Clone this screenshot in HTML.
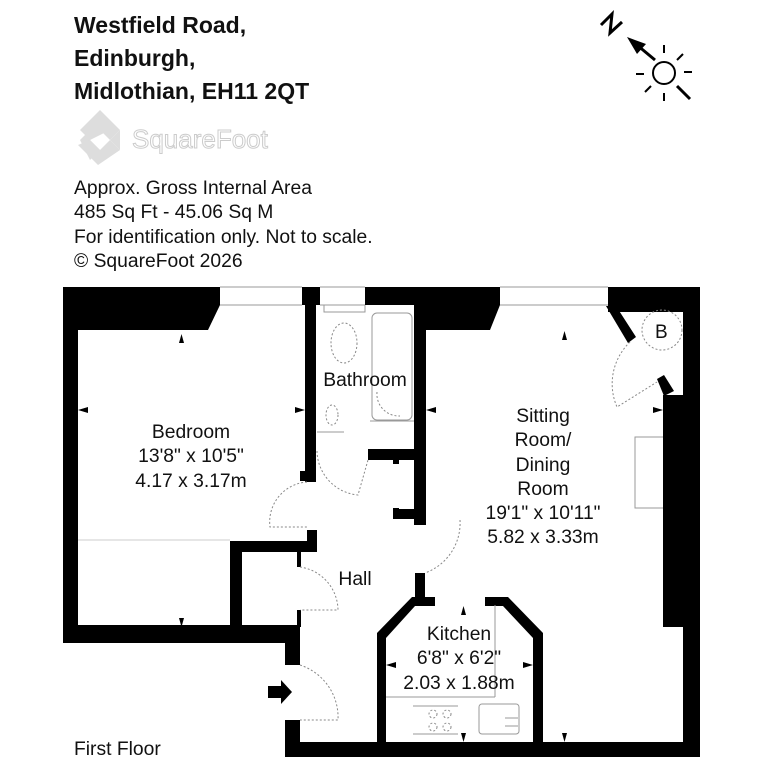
<!DOCTYPE html>
<html><head><meta charset="utf-8"><style>
html,body{margin:0;padding:0;background:#fff;}
svg{display:block}
text{font-family:"Liberation Sans",Arial,sans-serif;fill:#111}
</style></head><body>
<svg width="768" height="768" viewBox="0 0 768 768" xmlns="http://www.w3.org/2000/svg">
<rect width="768" height="768" fill="#fff"/>
<!-- header -->
<g font-weight="bold" font-size="23">
<text x="74" y="33">Westfield Road,</text>
<text x="74" y="66">Edinburgh,</text>
<text x="74" y="99">Midlothian, EH11 2QT</text>
</g>
<!-- logo -->
<g fill="#ddd">
<polygon points="100,110 120,130 110,140 100,130 90,140 80,130"/>
<polygon points="80,140 100,120 110,130 90,140 100,150 90,160"/>
<polygon points="98,165 78,145 90,140 100,150 110,140 120,150"/>
<polygon points="120,130 120,150 110,140"/>
</g>
<text x="132" y="148" font-size="26" fill="#fff" stroke="#ccc" stroke-width="1" style="fill:#fff">SquareFoot</text>
<g font-size="19.3">
<text x="74" y="194">Approx. Gross Internal Area</text>
<text x="74" y="218">485 Sq Ft  -  45.06 Sq M</text>
<text x="74" y="243">For identification only. Not to scale.</text>
<text x="74" y="267">© SquareFoot 2026</text>
</g>
<!-- compass -->
<g stroke="#000" stroke-width="3" fill="none">
<polyline points="601,25 612,14 610,33 622,22"/>
<line x1="655" y1="60" x2="637" y2="45"/>
</g>
<polygon points="627,37 646,44 637,54" fill="#000"/>
<circle cx="664" cy="73" r="11" fill="none" stroke="#000" stroke-width="2"/>
<g stroke="#000" stroke-width="2">
<line x1="664" y1="45" x2="664" y2="53"/><line x1="664" y1="93" x2="664" y2="101"/>
<line x1="636" y1="74" x2="644" y2="74"/><line x1="684" y1="72" x2="692" y2="72"/>
<line x1="677" y1="60" x2="683" y2="54"/><line x1="645" y1="92" x2="651" y2="86"/>
<line x1="677" y1="86" x2="690" y2="99" stroke-width="3"/>
</g>
<!-- walls -->
<g fill="#000">
<polygon points="63,287 220,287 220,305 208,330 78,330 78,642 63,642"/>
<rect x="63" y="625" width="237" height="18"/>
<rect x="302" y="287" width="18" height="18"/>
<rect x="305" y="287" width="11" height="195"/>
<rect x="300" y="471" width="5" height="10"/>
<polygon points="365,287 500,287 500,305 490,330 426,330 426,525 414,525 414,305 365,305"/>
<rect x="368" y="449" width="46" height="11"/>
<rect x="393" y="458" width="6" height="6"/>
<rect x="393" y="509" width="21" height="10"/>
<rect x="393" y="508" width="6" height="11"/>
<rect x="230" y="541" width="87" height="11"/>
<rect x="307" y="530" width="10" height="22"/>
<rect x="230" y="541" width="12" height="86"/>
<rect x="297" y="552" width="4" height="15"/>
<rect x="297" y="610" width="4" height="17"/>
<rect x="285" y="625" width="15" height="40"/>
<rect x="285" y="720" width="15" height="37"/>
<rect x="285" y="742" width="415" height="15"/>
<rect x="608" y="287" width="92" height="25"/>
<rect x="683" y="287" width="17" height="470"/>
<rect x="663" y="395" width="37" height="232"/>
<polygon points="606,306 616,306 636,337 628,343"/>
<polygon points="657,379 664,375 674,391 664,396"/>
<rect x="415" y="573" width="10" height="28"/>
<polygon points="412,597 435,597 435,606 415,606 386,638 386,742 377,742 377,633"/>
<polygon points="485,597 508,597 543,633 543,742 533,742 533,638 503,606 485,606"/>
</g>
<g stroke="#999" stroke-width="1" fill="none">
<line x1="220" y1="287" x2="302" y2="287"/><line x1="220" y1="305" x2="302" y2="305"/>
<line x1="320" y1="287" x2="365" y2="287"/><line x1="320" y1="305" x2="365" y2="305"/>
<line x1="500" y1="287" x2="608" y2="287"/><line x1="500" y1="305" x2="608" y2="305"/>
<line x1="78" y1="540" x2="230" y2="540" stroke="#ccc"/>
<polyline points="324,305 324,312 365,312 365,305"/>
<rect x="372" y="313" width="40" height="107" rx="5"/>
<line x1="370" y1="421" x2="414" y2="421"/>
<line x1="317" y1="432" x2="344" y2="432"/>
<line x1="386" y1="697" x2="495" y2="697"/>
<line x1="495" y1="605" x2="495" y2="697"/>
<line x1="413" y1="706" x2="458" y2="706"/><line x1="413" y1="734" x2="458" y2="734"/>
<rect x="479" y="704" width="40" height="30" rx="3"/>
<line x1="505" y1="718" x2="518" y2="718"/><line x1="505" y1="726" x2="518" y2="726"/>
<polyline points="663,437 635,437 635,508 663,508"/>
</g>
<g stroke="#888" stroke-width="1" fill="none" stroke-dasharray="2,2">
<ellipse cx="344" cy="343" rx="13" ry="20"/>
<ellipse cx="332" cy="415" rx="6" ry="10"/>
<path d="M377,392 A22,22 0 0 0 400,416"/>
<path d="M317,451 A45,45 0 0 0 358,495 L368,460"/>
<path d="M307,482 A40,40 0 0 0 270,527 L307,527"/>
<path d="M300,567 A44,44 0 0 1 338,610 L300,610"/>
<path d="M300,665 A55,55 0 0 1 338,720 L300,720"/>
<path d="M460,520 A53,53 0 0 1 425,573"/>
<circle cx="662" cy="330" r="20"/>
<path d="M630,342 A58,58 0 0 0 617,407 L657,382"/>
<circle cx="433" cy="714" r="4"/><circle cx="447" cy="714" r="4"/>
<circle cx="433" cy="727" r="4"/><circle cx="447" cy="727" r="4"/>
</g>
<text x="655" y="338" font-size="19">B</text>
<g fill="#000">
<polygon points="179,343 184,343 181.5,334"/>
<polygon points="78,410 88,407 88,413"/>
<polygon points="305,410 295,407 295,413"/>
<polygon points="179,618 184,618 181.5,627"/>
<polygon points="426,410 436,407 436,413"/>
<polygon points="663,410 653,407 653,413"/>
<polygon points="562,340 567,340 564.5,331"/>
<polygon points="461,615 466,615 463.5,606"/>
<polygon points="461,733 466,733 463.5,742"/>
<polygon points="562,733 567,733 564.5,742"/>
<polygon points="386,665 396,662 396,668"/>
<polygon points="533,665 523,662 523,668"/>
<polygon points="268,686 281,686 281,680 292,692 281,704 281,698 268,698"/>
</g>
<g font-size="19.3" text-anchor="middle">
<text x="191" y="438">Bedroom</text>
<text x="191" y="462">13'8" x 10'5"</text>
<text x="191" y="487">4.17 x 3.17m</text>
<text x="365" y="386">Bathroom</text>
<text x="543" y="422">Sitting</text>
<text x="543" y="446">Room/</text>
<text x="543" y="471">Dining</text>
<text x="543" y="495">Room</text>
<text x="543" y="519">19'1" x 10'11"</text>
<text x="543" y="543">5.82 x 3.33m</text>
<text x="355" y="585">Hall</text>
<text x="459" y="640">Kitchen</text>
<text x="459" y="664">6'8" x 6'2"</text>
<text x="459" y="689">2.03 x 1.88m</text>
</g>
<text x="74" y="755" font-size="19.3">First Floor</text>
</svg>
</body></html>
